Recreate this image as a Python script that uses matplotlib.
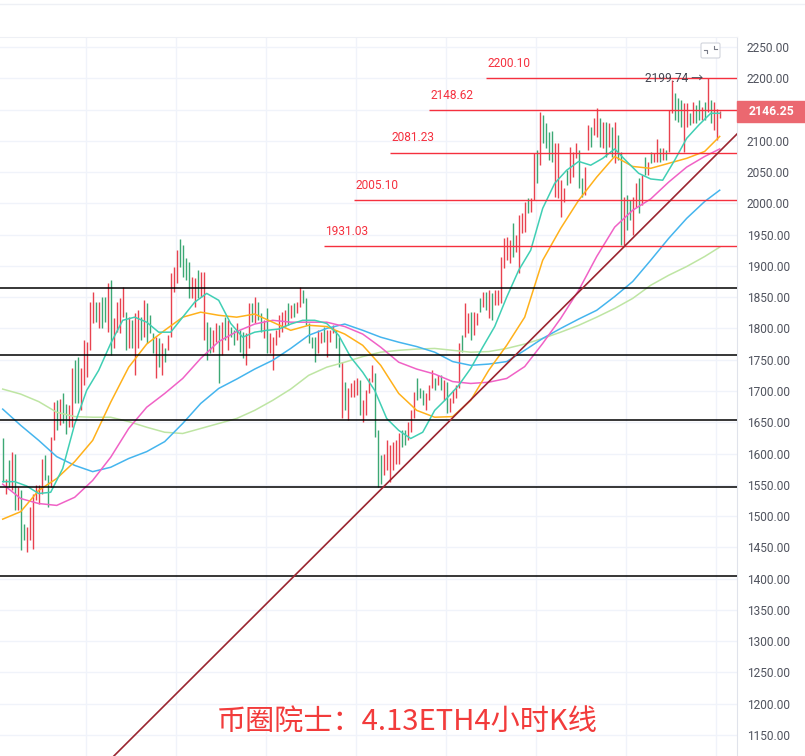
#!/usr/bin/env python3
"""
ETH 4小时K线图 (币圈院士 4.13) の再現
"""

import numpy as np
import matplotlib
matplotlib.use("Agg")
import matplotlib.pyplot as plt
from matplotlib.patches import Rectangle, FancyBboxPatch
from matplotlib.lines import Line2D

plt.rcParams['font.family'] = ['Roboto', 'Noto Sans CJK SC', 'DejaVu Sans']

# ---- K线数据 (最高价 / 最低价 / 颜色) ----
highs = [1624, 1560, 1589, 1602, 1600, 1546, 1541, 1487, 1482, 1514,
         1536, 1549, 1549, 1592, 1597, 1565, 1626, 1682, 1685, 1687,
         1696, 1679, 1677, 1736, 1749, 1754, 1736, 1781, 1778, 1842,
         1859, 1842, 1842, 1850, 1850, 1872, 1877, 1816, 1842, 1848,
         1866, 1826, 1818, 1813, 1824, 1829, 1818, 1845, 1840, 1821,
         1792, 1786, 1784, 1776, 1768, 1789, 1888, 1898, 1925, 1943,
         1933, 1912, 1906, 1882, 1880, 1893, 1890, 1890, 1810, 1802,
         1797, 1808, 1805, 1810, 1818, 1813, 1802, 1797, 1808, 1797,
         1794, 1792, 1840, 1840, 1850, 1842, 1824, 1813, 1832, 1792,
         1786, 1797, 1821, 1826, 1829, 1840, 1837, 1840, 1842, 1867,
         1861, 1848, 1808, 1786, 1786, 1797, 1794, 1802, 1797, 1797,
         1805, 1797, 1786, 1746, 1714, 1704, 1712, 1717, 1720, 1717,
         1685, 1701, 1720, 1741, 1728, 1637, 1597, 1600, 1621, 1613,
         1618, 1621, 1632, 1637, 1637, 1650, 1669, 1698, 1720, 1704,
         1701, 1696, 1709, 1733, 1720, 1725, 1725, 1717, 1714, 1688,
         1701, 1709, 1776, 1789, 1840, 1824, 1826, 1826, 1824, 1848,
         1858, 1858, 1861, 1856, 1861, 1861, 1914, 1944, 1946, 1941,
         1968, 1949, 1981, 1984, 2002, 2008, 2008, 2080, 2085, 2146,
         2141, 2128, 2114, 2115, 2096, 2096, 2037, 2024, 2053, 2090,
         2082, 2096, 2085, 2040, 2058, 2125, 2122, 2136, 2152, 2136,
         2130, 2130, 2128, 2122, 2130, 2109, 2082, 2010, 2013, 2005,
         2010, 2032, 2040, 2045, 2074, 2066, 2082, 2080, 2103, 2088,
         2088, 2085, 2149, 2197, 2176, 2168, 2165, 2160, 2160, 2144,
         2162, 2157, 2165, 2154, 2162, 2199.74, 2165, 2162, 2151, 2147]

lows = [1554, 1536, 1546, 1541, 1509, 1509, 1445, 1461, 1442, 1461,
        1448, 1525, 1520, 1536, 1557, 1514, 1546, 1621, 1637, 1645,
        1648, 1631, 1642, 1642, 1680, 1680, 1669, 1709, 1722, 1765,
        1808, 1810, 1800, 1800, 1810, 1794, 1757, 1768, 1794, 1792,
        1819, 1765, 1768, 1768, 1725, 1768, 1781, 1786, 1776, 1792,
        1760, 1720, 1738, 1725, 1746, 1765, 1786, 1858, 1872, 1898,
        1882, 1877, 1848, 1848, 1834, 1848, 1850, 1781, 1749, 1760,
        1762, 1778, 1712, 1757, 1781, 1765, 1786, 1773, 1781, 1762,
        1752, 1741, 1768, 1810, 1808, 1813, 1794, 1784, 1760, 1760,
        1733, 1773, 1786, 1794, 1802, 1805, 1816, 1818, 1824, 1834,
        1840, 1805, 1776, 1768, 1746, 1760, 1776, 1778, 1754, 1778,
        1792, 1768, 1738, 1656, 1669, 1653, 1690, 1690, 1693, 1661,
        1650, 1661, 1696, 1714, 1626, 1546, 1552, 1565, 1573, 1554,
        1573, 1584, 1584, 1610, 1613, 1621, 1634, 1656, 1685, 1688,
        1677, 1669, 1685, 1704, 1701, 1709, 1701, 1685, 1664, 1666,
        1680, 1688, 1704, 1762, 1786, 1792, 1781, 1789, 1805, 1826,
        1834, 1829, 1816, 1813, 1837, 1837, 1840, 1896, 1909, 1904,
        1914, 1922, 1888, 1952, 1954, 1984, 1986, 2005, 2032, 2061,
        2096, 2088, 2069, 2066, 2010, 2008, 1978, 2002, 2029, 2032,
        2042, 2072, 2024, 2010, 2013, 2085, 2090, 2109, 2106, 2090,
        2088, 2074, 2090, 2074, 2064, 2069, 1933, 1933, 1957, 1973,
        1949, 1994, 1984, 1997, 2045, 2045, 2064, 2066, 2066, 2066,
        2069, 2069, 2082, 2144, 2133, 2130, 2122, 2082, 2122, 2125,
        2128, 2128, 2133, 2133, 2133, 2146, 2128, 2117, 2101, 2137]

colors = ("grgrgrggrr" "rrrrggrrgr" "ggrrggrrrr" "rgrggrgrrr"
          "rgrgrrgrgg" "grgrgrrrrg" "gggrrgrrgg" "rrgrgrggrg"
          "grrgrggrgr" "rrrrrgrgrr" "gggggrrgrr" "rggrgrrrrg"
          "rrrrgggrrr" "rrrggrrrgg" "grrrgrgrgr" "rrrgrrgrrg"
          "rgrgrrrrrr" "grrrrgrrgr" "ggggrrrrgr" "rrggrrgrrg"
          "rgrgrggrgg" "rrgrgrgrrg" "rgrrgggrrg" "rggrgrgrrr")

last_price = 2146.25
high_mark = 2199.74

# ---- 均线 (图上读取的采样点) ----
ma_fast_idx = [0, 4, 8, 12, 16, 20, 24, 28, 32, 36, 40, 44, 48, 52, 56, 60,
               64, 68, 72, 76, 80, 84, 88, 92, 96, 100, 104, 108, 112, 116,
               120, 124, 128, 132, 136, 140, 144, 148, 152, 156, 160, 164,
               168, 172, 176, 180, 184, 188, 192, 196, 200, 204, 208, 212,
               216, 220, 224, 228, 232, 236, 239]
ma_fast = [1555, 1555, 1548, 1536, 1538, 1576, 1647, 1701, 1733, 1776, 1813,
           1818, 1810, 1794, 1794, 1818, 1842, 1856, 1845, 1808, 1786, 1794,
           1797, 1799, 1807, 1813, 1813, 1808, 1789, 1754, 1730, 1701, 1656,
           1637, 1624, 1634, 1669, 1688, 1709, 1736, 1770, 1803, 1850, 1893,
           1925, 1992, 2032, 2053, 2067, 2061, 2072, 2087, 2067, 2048, 2039,
           2037, 2069, 2104, 2125, 2144, 2144]

ma_idx = [0, 6, 12, 18, 24, 30, 36, 42, 48, 54, 60, 66, 72, 78, 84, 90, 96,
          102, 108, 114, 120, 126, 132, 138, 144, 150, 156, 162, 168, 174,
          180, 186, 192, 198, 204, 210, 216, 222, 228, 234, 239]
ma_orange = [1495, 1507, 1541, 1560, 1587, 1621, 1682, 1738, 1775, 1797, 1818,
             1826, 1821, 1818, 1823, 1810, 1797, 1805, 1803, 1791, 1773, 1741,
             1696, 1669, 1658, 1659, 1685, 1733, 1773, 1818, 1909, 1960, 2005,
             2042, 2075, 2059, 2056, 2064, 2072, 2083, 2107]
ma_pink = [1551, 1528, 1520, 1517, 1530, 1557, 1594, 1640, 1674, 1696, 1720,
           1752, 1779, 1795, 1807, 1813, 1810, 1810, 1810, 1803, 1791, 1770,
           1746, 1735, 1727, 1715, 1712, 1714, 1720, 1739, 1776, 1816, 1861,
           1915, 1962, 1989, 2007, 2034, 2058, 2075, 2087]
ma_blue = [1671, 1645, 1621, 1595, 1581, 1571, 1578, 1592, 1603, 1619, 1648,
           1680, 1704, 1719, 1735, 1749, 1768, 1789, 1800, 1807, 1797, 1786,
           1778, 1771, 1762, 1747, 1741, 1743, 1747, 1765, 1784, 1800, 1815,
           1829, 1851, 1875, 1909, 1944, 1976, 2003, 2021]
ma_green = [1703, 1695, 1683, 1666, 1659, 1658, 1658, 1651, 1642, 1634, 1632,
            1640, 1648, 1656, 1669, 1685, 1703, 1725, 1738, 1746, 1755, 1762,
            1765, 1767, 1768, 1765, 1762, 1763, 1768, 1775, 1784, 1794, 1805,
            1818, 1832, 1848, 1869, 1885, 1899, 1915, 1930]

# ---- 画线 ----
red_levels = [2200.10, 2148.62, 2081.23, 2005.10, 1931.03]
red_level_start = [161, 142, 129, 117, 107]
black_levels = [1864, 1758, 1653, 1547, 1404]
trend_pts = [(37, 1116), (245, 2112)]

price_ticks = np.arange(1150, 2251, 50)

RED = '#E8424F'
GREEN = '#3CA874'
LEVEL_RED = '#F5303E'


def main():
    fig = plt.figure(figsize=(8.05, 7.56), dpi=100)
    ax = fig.add_axes([0, 0, 737 / 805, 719 / 756])

    n = len(highs)
    x = np.arange(n)
    xmin, xmax = -0.9, 244.77
    ax.set_xlim(xmin, xmax)
    ax.set_ylim(1116.3, 2266)

    # グリッド (現在値ボックスに隠れる目盛りは空にする)
    ax.set_yticks(price_ticks)
    ax.set_yticklabels(["" if abs(v - last_price) < 25 else f"{v:.2f}"
                        for v in price_ticks])
    ax.set_xticks(np.arange(27.67, xmax, 30))
    ax.grid(True, color='#F0F3FA', lw=1.0, zorder=0)
    ax.tick_params(axis='x', length=0, labelbottom=False)
    ax.yaxis.tick_right()
    ax.tick_params(axis='y', length=0, pad=7, labelsize=8.6, labelcolor='#50535E')
    for s in ['left', 'bottom']:
        ax.spines[s].set_visible(False)
    ax.spines['right'].set_color('#E0E3EB')
    ax.spines['top'].set_color('#EEF0F5')

    # K线
    cols = [RED if c == 'r' else GREEN for c in colors]
    ax.vlines(x, lows, highs, colors=cols, lw=1.0, zorder=3)

    # 均线
    ax.plot(ma_idx, ma_green, color='#BEE5A3', lw=1.1, zorder=4)
    ax.plot(ma_idx, ma_blue, color='#45B5EE', lw=1.1, zorder=4)
    ax.plot(ma_idx, ma_pink, color='#F062C6', lw=1.1, zorder=4)
    ax.plot(ma_idx, ma_orange, color='#FFB11B', lw=1.1, zorder=4)
    ax.plot(ma_fast_idx, ma_fast, color='#40CFB4', lw=1.1, zorder=4)

    # 水平線
    for lv in black_levels:
        ax.axhline(lv, color='black', lw=1.1, zorder=5)
    for lv, st in zip(red_levels, red_level_start):
        ax.hlines(lv, st, xmax, color=LEVEL_RED, lw=1.0, zorder=5)
        ax.annotate(f"{lv:.2f}", (st, lv), xytext=(1, 6), textcoords='offset points',
                    color=LEVEL_RED, fontsize=8.6, ha='left', va='bottom', zorder=6)

    # トレンドライン
    ax.axline(trend_pts[0], trend_pts[1], color='#9A2530', lw=1.2, zorder=5)

    # 最高値ラベル
    hi_i = int(np.argmax(highs))
    ax.annotate(f"{high_mark:.2f} →", (hi_i, high_mark), xytext=(-3, 0),
                textcoords='offset points', ha='right', va='center',
                color='#434651', fontsize=8.6, zorder=6)

    # 現在値ボックス
    tr = ax.get_yaxis_transform()
    box_w = 68 / 737
    box_h = 21 * (2266 - 1116.3) / 719
    ax.add_patch(Rectangle((1.0, last_price - box_h / 2), box_w, box_h,
                           transform=tr, color='#EB6870', clip_on=False, zorder=10))
    ax.text(1.0 + box_w / 2, last_price, f"{last_price:.2f}", transform=tr,
            ha='center', va='center', color='white', fontsize=8.8,
            fontweight='bold', zorder=11, clip_on=False)

    # 上部のツールバー線とアイコン
    fig.add_artist(Line2D([0, 1], [1 - 4 / 756, 1 - 4 / 756],
                          color='#EEF0F5', lw=1.0))
    fig.add_artist(FancyBboxPatch((701 / 805, 1 - 58 / 756), 19 / 805, 15 / 756,
                                  boxstyle='round,pad=0,rounding_size=0.002',
                                  fc='white', ec='#D1D4DC', lw=0.8))
    fig.add_artist(Line2D([707 / 805, 707 / 805, 704 / 805],
                          [1 - 53 / 756, 1 - 50 / 756, 1 - 50 / 756],
                          color='#787B86', lw=0.8))
    fig.add_artist(Line2D([714 / 805, 714 / 805, 717 / 805],
                          [1 - 46 / 756, 1 - 49 / 756, 1 - 49 / 756],
                          color='#787B86', lw=0.8))

    # タイトル
    fig.text(407 / 805, 1 - 722 / 756, "币圈院士：4.13ETH4小时K线",
             family=['Noto Sans CJK SC', 'DejaVu Sans'], fontsize=21,
             color='#F23B3B', ha='center', va='center')

    fig.savefig('out.png', dpi=100, facecolor='white')


if __name__ == "__main__":
    main()
